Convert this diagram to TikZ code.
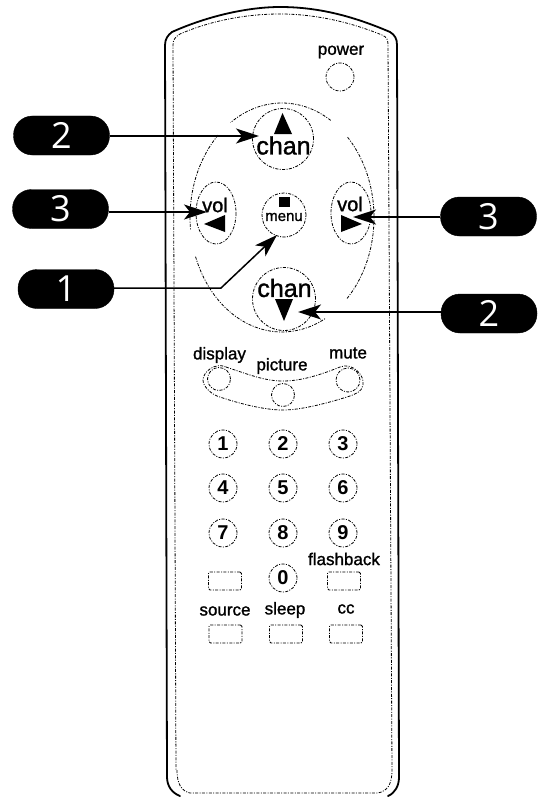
\documentclass[tikz,border=0pt]{standalone}
\usepackage{fontspec}
\setmainfont{Liberation Sans}[FakeBold=1.3]
\newfontfamily\digfont{Liberation Sans Bold}
\newfontfamily\bubfont{Open Sans}
\usetikzlibrary{arrows.meta}
\tikzset{
  thin dash/.style={draw=black,line width=0.8pt,dash pattern=on 3pt off 1.4pt on 1pt off 1.4pt},
  body line/.style={draw=black,line width=1.8pt,line cap=round},
  bubble/.style={fill=black,draw=black,rounded corners=19pt,minimum width=96pt,minimum height=39pt,inner sep=0pt,text=white,font=\bubfont\fontsize{36}{36}\selectfont},
  pointer/.style={draw=black,line width=1.5pt,-{Stealth[length=23pt,width=15pt,inset=6pt]}},
  ring/.style={thin dash,circle,inner sep=0pt,minimum size=#1},
  keybox/.style={thin dash,rounded corners=1.5pt,inner sep=0pt,minimum width=33pt,minimum height=18pt},
  label/.style={inner sep=0pt,font=\fontsize{17}{17}\selectfont},
  digit/.style={inner sep=0pt,font=\digfont\fontsize{20}{20}\selectfont,ring=28pt},
  tri/.style={fill=black,draw=none},
}
\begin{document}
\begin{tikzpicture}[x=1pt,y=-1pt]
\useasboundingbox (0,0) rectangle (540,797);
% body
\draw[body line] (180,796) .. controls (172,793) and (167,786) .. (167,777) -- (165,45)
  .. controls (165,39) and (168,35) .. (172,32) .. controls (210,15) and (250,7) .. (280,7)
  .. controls (320,7) and (355,17) .. (390,32) .. controls (395,35) and (397,39) .. (397,45)
  -- (399,777) .. controls (399,786) and (395,793) .. (388,796);
\draw[thin dash] (177,770) .. controls (177,785) and (182,791) .. (190,793) -- (378,793)
  .. controls (387,791) and (392,785) .. (392,770) -- (388,45)
  .. controls (388,40) and (387,37) .. (382,35) .. controls (350,22) and (315,14) .. (280,14)
  .. controls (245,14) and (210,21) .. (180,34) .. controls (175,37) and (173,40) .. (173,45) -- (176,770);
% wheel
\draw[thin dash] plot[domain=-45:45,samples=40] ({282+92*cos(\x)},{217.5-114.5*sin(\x)});
\draw[thin dash] plot[domain=58:124,samples=40] ({282+92*cos(\x)},{217.5-114.5*sin(\x)});
\draw[thin dash] plot[domain=134:186,samples=40] ({282+92*cos(\x)},{217.5-114.5*sin(\x)});
\draw[thin dash] plot[domain=200:298,samples=40] ({282+92*cos(\x)},{217.5-114.5*sin(\x)});
% power
\node[label] (powertxt) at (341,52) {power};
\node[ring=28pt] (powerbtn) at (340,77) {};
% chan up
\node[ring=61pt] (chanup) at (283,139) {};
\node[inner sep=0pt,font=\fontsize{25}{25}\selectfont] (chanuptxt) at (283.5,145.5) {chan};
\fill[tri] (282.5,113) -- (274,134) -- (292,134) -- cycle;
% chan down
\node[ring=63pt] (chandn) at (284,299) {};
\node[inner sep=0pt,font=\fontsize{25}{25}\selectfont] (chandntxt) at (284.5,288) {chan};
\fill[tri] (275,299) -- (293,299) -- (284,321) -- cycle;
% vol left
\draw[thin dash] (216,213) ellipse (20 and 31);
\node[inner sep=0pt,font=\fontsize{20}{20}\selectfont] (volltxt) at (215,205) {vol};
\fill[tri] (204,224) -- (225,215) -- (225,232) -- cycle;
% vol right
\draw[thin dash] (351,213) ellipse (20 and 31);
\node[inner sep=0pt,font=\fontsize{20}{20}\selectfont] (volrtxt) at (350,204) {vol};
\fill[tri] (341,215) -- (341,232) -- (362,224) -- cycle;
% menu
\node[ring=44pt] (menubtn) at (284,215) {};
\fill[tri] (279,197) rectangle (290,207);
\node[inner sep=0pt,font=\fontsize{15}{15}\selectfont] (menutxt) at (284,217) {menu};
% display group
\node[label] (displaytxt) at (219.5,355) {display};
\node[label] (picturetxt) at (282,366) {picture};
\node[label] (mutetxt) at (348,353) {mute};
\node[ring=23pt] (displaybtn) at (219,379) {};
\node[ring=23pt] (picturebtn) at (283,395) {};
\node[ring=24pt] (mutebtn) at (348,380) {};
\draw[thin dash] (226,367) .. controls (250,375) and (265,381) .. (283,381)
  .. controls (301,381) and (320,375) .. (340,367) .. controls (352,362) and (365,375) .. (363,385)
  .. controls (362,392) and (355,394) .. (350,396) .. controls (325,404) and (300,410) .. (283,410)
  .. controls (265,410) and (240,404) .. (217,396) .. controls (210,393) and (203,386) .. (203,380)
  .. controls (203,372) and (215,362) .. (226,367);
% digits
\node[digit] (d1) at (223,444) {1};
\node[digit] (d2) at (283,444) {2};
\node[digit] (d3) at (343,444) {3};
\node[digit] (d4) at (223,488) {4};
\node[digit] (d5) at (283,488) {5};
\node[digit] (d6) at (343,488) {6};
\node[digit] (d7) at (223,533) {7};
\node[digit] (d8) at (283,533) {8};
\node[digit] (d9) at (343,533) {9};
\node[digit] (d0) at (283,578) {0};
% lower keys
\node[label] (flashtxt) at (344,559) {flashback};
\node[keybox] (kblank) at (225,581) {};
\node[keybox] (kflash) at (344,581) {};
\node[label] (sourcetxt) at (225,611) {source};
\node[label] (sleeptxt) at (285,610) {sleep};
\node[label] (cctxt) at (346,609) {cc};
\node[keybox] (ksource) at (225.5,634) {};
\node[keybox] (ksleep) at (286,634) {};
\node[keybox] (kcc) at (346,634) {};
% bubbles
\node[bubble] (b2l) at (61.5,135.5) {2};
\node[bubble] (b3l) at (60.5,209) {3};
\node[bubble] (b1) at (66,289) {1};
\node[bubble] (b3r) at (488.5,216.5) {3};
\node[bubble] (b2r) at (489,313.5) {2};
% connector targets
\coordinate (t2l) at (259,136);
\coordinate (t3l) at (207,212);
\coordinate (t3r) at (353,217);
\coordinate (t2r) at (298,312);
\coordinate (t1) at (277,235);
\coordinate (k1) at (221,288);
\draw[pointer] (b2l.east |- t2l) -- (t2l);
\draw[pointer] (b3l.east |- t3l) -- (t3l);
\draw[pointer] (b3r.west |- t3r) -- (t3r);
\draw[pointer] (b2r.west |- t2r) -- (t2r);
\draw[pointer] (b1.east |- k1) -- (k1) -- (t1);
\end{tikzpicture}
\end{document}
